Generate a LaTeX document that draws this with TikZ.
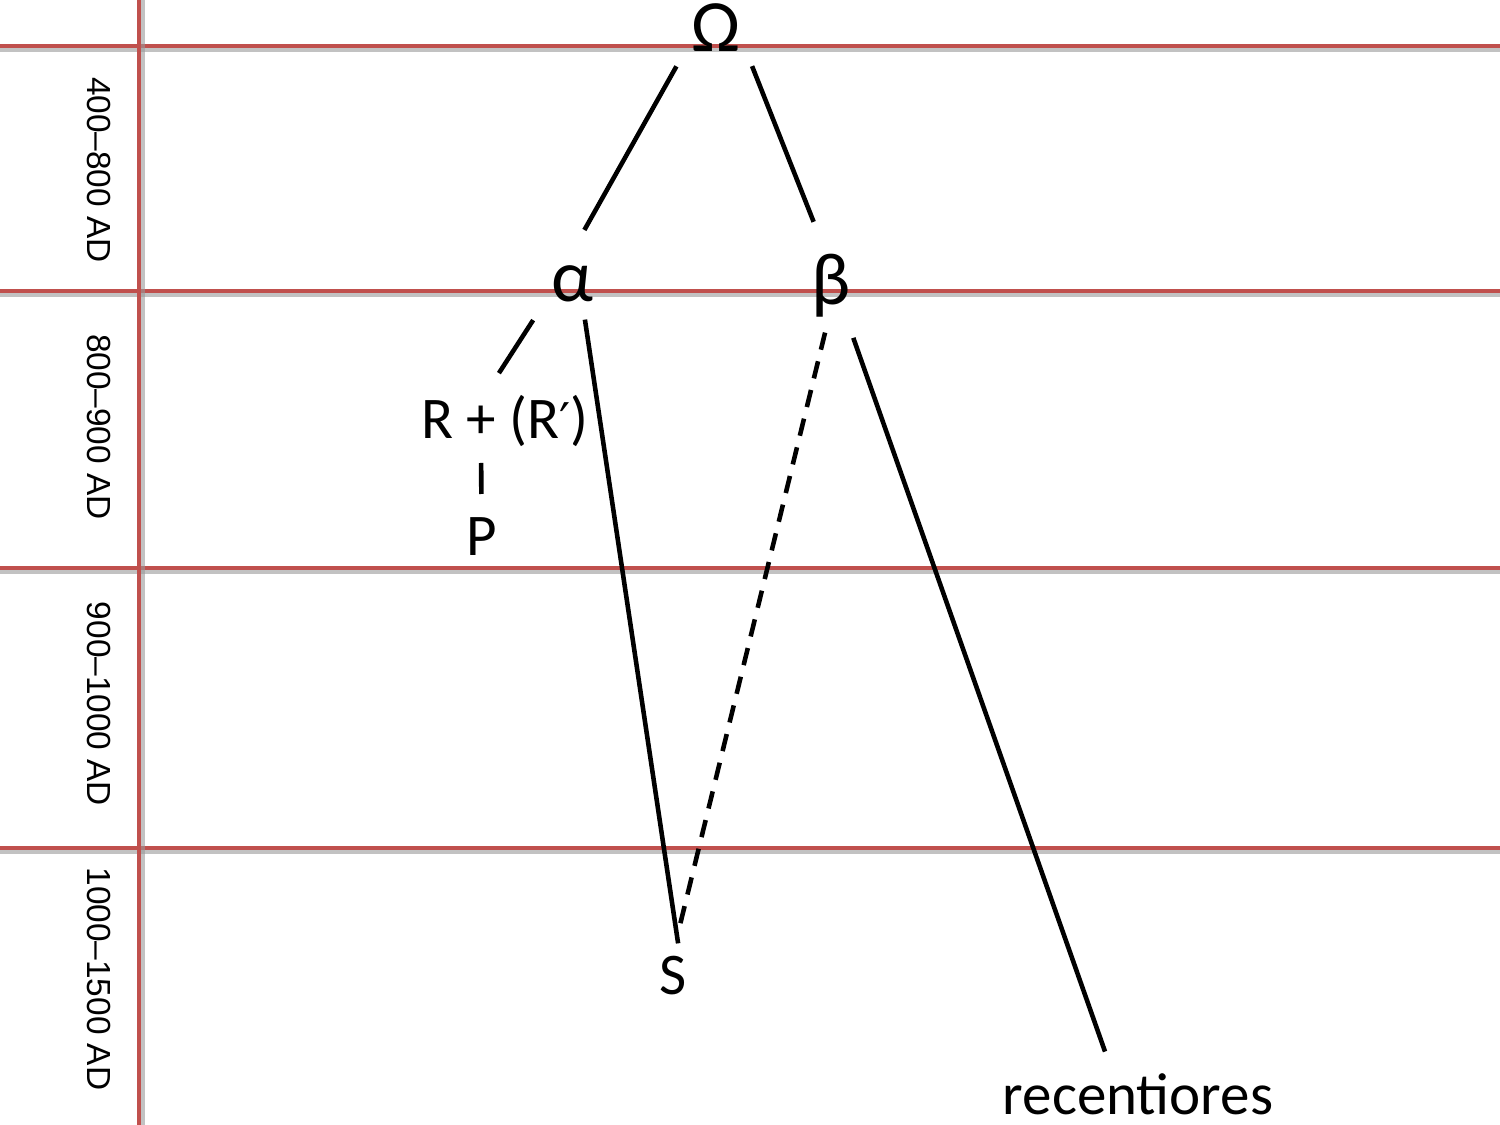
\documentclass[tikz,border=0pt]{standalone}
\usepackage{fontspec}
\setmainfont{Carlito}
\newfontfamily\axisfont{Liberation Sans}
\newfontfamily\primefont{DejaVu Sans}
\usepackage{tikz}

\definecolor{bandred}{RGB}{192,80,77}

\begin{document}
\begin{tikzpicture}[line width=1.3pt]
\tikzstyle{band}=[bandred,line width=1pt]
\tikzstyle{bandshadow}=[black!40,line width=1.6pt,opacity=0.6]
\tikzstyle{era}=[font=\axisfont\fontsize{9.5}{11}\selectfont,rotate=-90,inner sep=0pt]
\tikzstyle{siglum}=[font=\fontsize{21}{24}\selectfont,inner sep=0pt]
\tikzstyle{ms}=[font=\fontsize{16.8}{20}\selectfont,inner sep=0pt]
\useasboundingbox (0,0) rectangle (15,11.25);

% period bands
\foreach \y in {10.79,8.34,5.57,2.77}{
  \draw[bandshadow] (0,\y-0.035) -- (15,\y-0.035);
  \draw[band] (0,\y) -- (15,\y);
}
\draw[bandshadow] (1.425,0) -- (1.425,11.25);
\draw[band] (1.39,0) -- (1.39,11.25);

\node[era] (era1) at (0.985,9.55) {400–800 AD};
\node[era] (era2) at (0.985,6.98) {800–900 AD};
\node[era] (era3) at (0.985,4.21) {900–1000 AD};
\node[era] (era4) at (0.985,1.46) {1000–1500 AD};

% stemma
\node[siglum] (Omega) at (7.16,10.97) {Ω};
\node[siglum] (alpha) at (5.72,8.41) {α};
\node[siglum] (beta) at (8.31,8.39) {β};
\node[ms] (R) at (5.05,7.04) {R + (R{\primefont\fontsize{14}{16}\selectfont ′})};
\node[ms] (P) at (4.815,5.88) {P};
\node[ms] (S) at (6.73,1.49) {S};
\node[ms] (rec) at (11.38,0.31) {recentiores};

\draw[shorten <=0.44cm,shorten >=0.62cm] ([xshift=-0.18cm]Omega.center) -- ([xshift=-0.18cm]alpha.center);
\draw[shorten <=0.41cm,shorten >=0.69cm] ([xshift=0.21cm]Omega.center) -- ([xshift=0.08cm]beta.center);
\draw[shorten <=0.43cm,shorten >=0.57cm] ([xshift=-0.155cm]alpha.center) -- ([xshift=-0.37cm]R.center);
\draw[shorten <=0.42cm,shorten >=0.43cm] ([xshift=-0.24cm]R.center) -- (P.center);
\draw[shorten <=0.36cm,shorten >=0.33cm] ([xshift=0.076cm]alpha.center) -- ([xshift=0.10cm]S.center);
\draw[dash pattern=on 5pt off 3.4pt,shorten <=0.48cm,shorten >=0.53cm] ([xshift=0.055cm]beta.center) -- ([xshift=-0.055cm]S.center);
\draw[shorten <=0.55cm,shorten >=0.45cm] ([xshift=0.04cm]beta.center) -- ([xshift=-0.18cm]rec.center);
\end{tikzpicture}
\end{document}
